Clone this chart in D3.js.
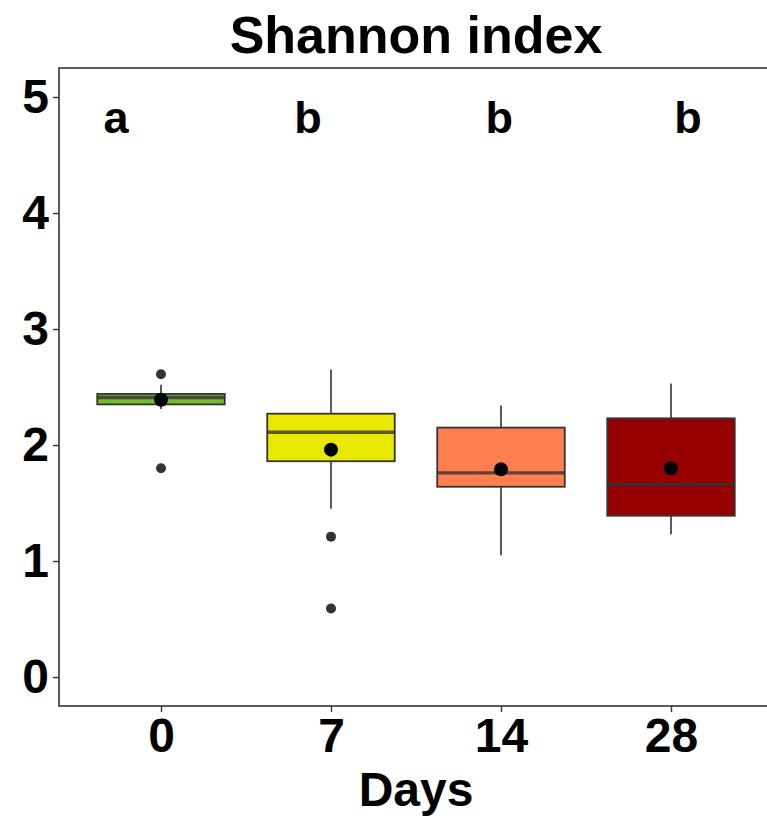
<!DOCTYPE html>
<html>
<head>
<meta charset="utf-8">
<script src="https://cdn.jsdelivr.net/npm/d3@7/dist/d3.min.js"></script>
<style>
  html, body { margin: 0; padding: 0; background: #fff; }
  svg { display: block; }
  text { font-family: "Liberation Sans", Arial, sans-serif; font-weight: bold; fill: #000; }
</style>
</head>
<body>
<svg id="chart" width="767" height="818"></svg>
<script>
// Shannon diversity per sampling day
const days       = ["0", "7", "14", "28"];
const whiskerLow = [2.31, 1.45, 1.05, 1.23];
const q1         = [2.35, 1.86, 1.64, 1.39];
const median     = [2.41, 2.11, 1.76, 1.66];
const q3         = [2.44, 2.27, 2.15, 2.23];
const whiskerHigh= [2.52, 2.65, 2.34, 2.53];
const means      = [2.39, 1.96, 1.79, 1.80];
const outliers   = [[2.61, 1.80], [1.21, 0.59], [], []];
const fills      = ["#74bb2e", "#e9e900", "#ff7f50", "#960000"];
// Significance letters and their horizontal position on the day axis (1 = first day)
const letters    = ["a", "b", "b", "b"];
const letterPos  = [0.735, 1.865, 2.99, 4.1];
const letterY    = 4.82;
const yTicks     = [0, 1, 2, 3, 4, 5];

const svg = d3.select("#chart");
const panel = { left: 59, right: 773, top: 68, bottom: 706 };

const x = d3.scaleLinear().domain([0.4, days.length + 0.6]).range([panel.left, panel.right]);
const y = d3.scaleLinear().domain([-0.25, 5.25]).range([panel.bottom, panel.top]);
const boxW = x(1.75) - x(1);

// title
svg.append("text")
  .attr("x", (panel.left + panel.right) / 2)
  .attr("y", 53)
  .attr("text-anchor", "middle")
  .style("font-size", "52px")
  .text("Shannon index");

// boxplots
const g = svg.append("g");
days.forEach((d, i) => {
  const cx = x(i + 1);
  // whiskers
  g.append("line").attr("x1", cx).attr("x2", cx).attr("y1", y(q3[i])).attr("y2", y(whiskerHigh[i]))
    .attr("stroke", "#333").attr("stroke-width", 1.6);
  g.append("line").attr("x1", cx).attr("x2", cx).attr("y1", y(q1[i])).attr("y2", y(whiskerLow[i]))
    .attr("stroke", "#333").attr("stroke-width", 1.6);
  // box
  g.append("rect")
    .attr("x", cx - boxW / 2).attr("width", boxW)
    .attr("y", y(q3[i])).attr("height", y(q1[i]) - y(q3[i]))
    .attr("fill", fills[i]).attr("stroke", "#333").attr("stroke-width", 1.8);
  // median
  g.append("line").attr("x1", cx - boxW / 2).attr("x2", cx + boxW / 2)
    .attr("y1", y(median[i])).attr("y2", y(median[i]))
    .attr("stroke", "#333").attr("stroke-opacity", 0.8).attr("stroke-width", 3.4);
  // outliers
  outliers[i].forEach(v => {
    g.append("circle").attr("cx", cx).attr("cy", y(v)).attr("r", 5).attr("fill", "#333");
  });
  // mean
  g.append("circle").attr("cx", cx).attr("cy", y(means[i])).attr("r", 7).attr("fill", "#000");
});

// letters
svg.append("g").selectAll("text").data(letters).join("text")
  .attr("x", (d, i) => x(letterPos[i]))
  .attr("y", y(letterY) + 15)
  .attr("text-anchor", "middle")
  .style("font-size", "45px")
  .text(d => d);

// panel border
svg.append("rect")
  .attr("x", panel.left).attr("y", panel.top)
  .attr("width", panel.right - panel.left).attr("height", panel.bottom - panel.top)
  .attr("fill", "none").attr("stroke", "#333").attr("stroke-width", 1.6);

// y axis
const yAxis = svg.append("g").attr("transform", `translate(${panel.left},0)`)
  .call(d3.axisLeft(y).tickValues(yTicks).tickFormat(d3.format("d")).tickSize(6).tickPadding(4));
yAxis.select(".domain").remove();
yAxis.selectAll("line").attr("stroke", "#333").attr("stroke-width", 1.4);
yAxis.selectAll("text").style("font-size", "48px").attr("fill", "#000")
  .style("font-family", "'Liberation Sans', Arial, sans-serif").style("font-weight", "bold");

// x axis
const xAxis = svg.append("g").attr("transform", `translate(0,${panel.bottom})`)
  .call(d3.axisBottom(x).tickValues(days.map((d, i) => i + 1)).tickFormat((d, i) => days[i]).tickSize(6).tickPadding(6));
xAxis.select(".domain").remove();
xAxis.selectAll("line").attr("stroke", "#333").attr("stroke-width", 1.4);
xAxis.selectAll("text").style("font-size", "48px").attr("fill", "#000")
  .style("font-family", "'Liberation Sans', Arial, sans-serif").style("font-weight", "bold");

// x axis title
svg.append("text")
  .attr("x", (panel.left + panel.right) / 2)
  .attr("y", 806)
  .attr("text-anchor", "middle")
  .style("font-size", "48px")
  .text("Days");
</script>
</body>
</html>
